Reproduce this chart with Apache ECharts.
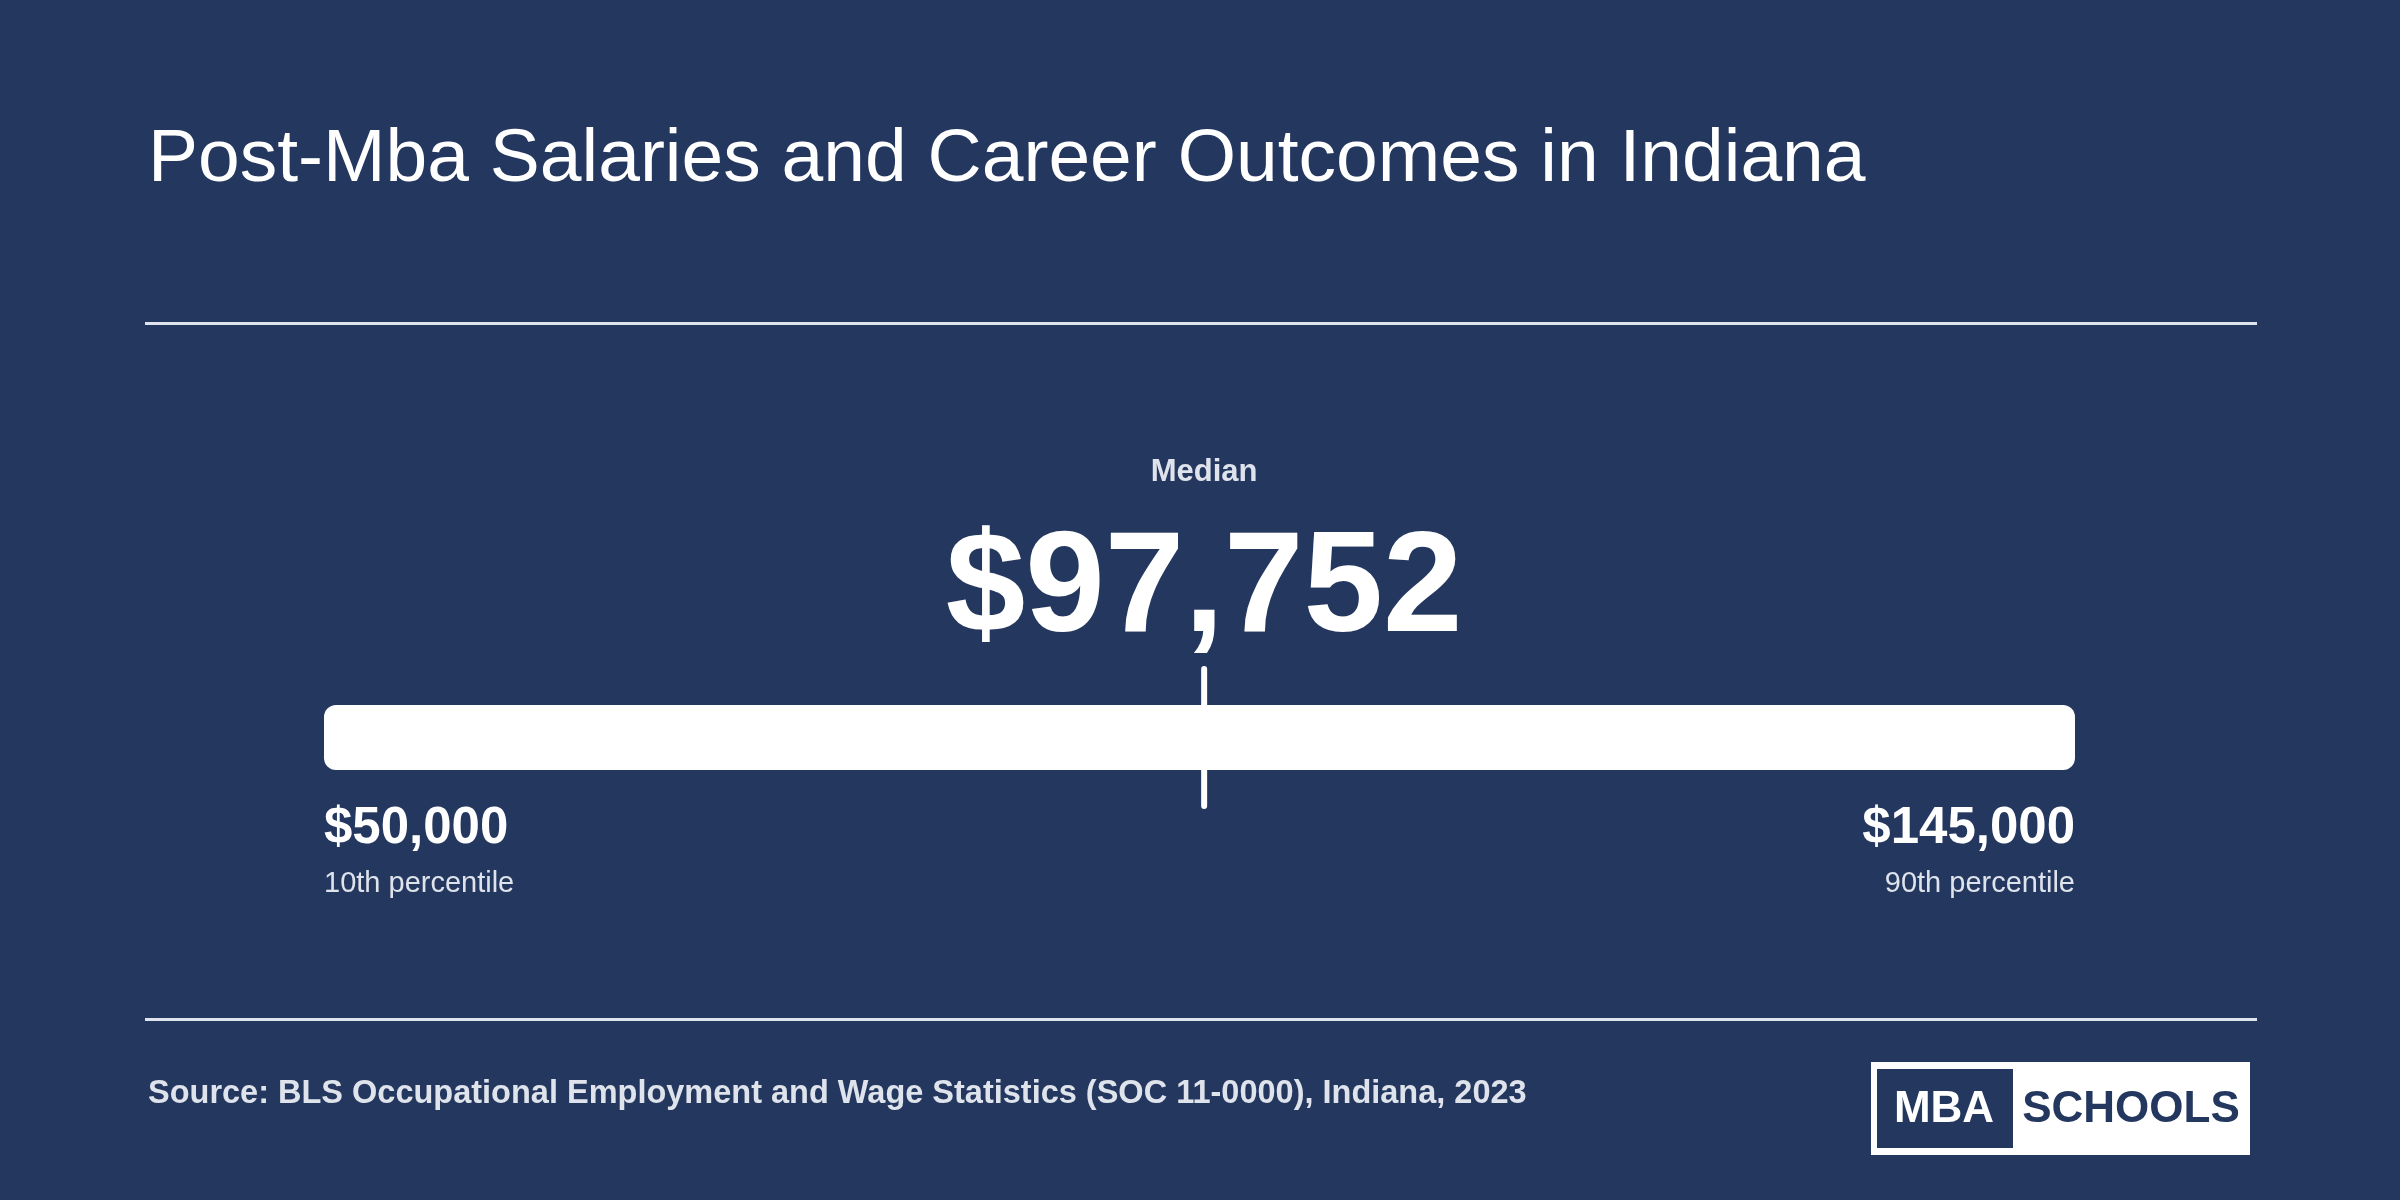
<!DOCTYPE html>
<html><head><meta charset="utf-8">
<script src="https://cdn.jsdelivr.net/npm/echarts@6/dist/echarts.min.js"></script>
<style>html,body{margin:0;padding:0;background:#24375f}#c{width:2400px;height:1200px}</style>
</head><body><div id="c"></div>
<script>
const titleText = "Post-Mba Salaries and Career Outcomes in Indiana";
const sourceText = "Source: BLS Occupational Employment and Wage Statistics (SOC 11-0000), Indiana, 2023";
const categories = ["Indiana"];
const p10 = [50000];
const median = [97752];
const p90 = [145000];
const lowLabel = "10th percentile";
const highLabel = "90th percentile";
const medianLabel = "Median";

const fmt = v => "$" + v.toLocaleString("en-US");
const chart = echarts.init(document.getElementById('c'));
const F = "Liberation Sans, Arial, sans-serif";
chart.setOption({
  backgroundColor: "#24375f",
  animation: false,
  title: [
    {text: titleText, left: 143, top: 118, textStyle: {color: "#fff", fontSize: 75, fontWeight: "normal", fontFamily: F}},
    {text: sourceText, left: 143, top: 1073, textStyle: {color: "#dfe3ec", fontSize: 32.5, fontWeight: "bold", fontFamily: F}}
  ],
  grid: {left: 324, width: 1751, top: 705, height: 65},
  xAxis: {type: "value", min: p10[0], max: p90[0], show: false},
  yAxis: {type: "category", data: categories, show: false},
  graphic: [
    {type: "rect", shape: {x: 145, y: 322, width: 2112, height: 3}, style: {fill: "#dfe3ec"}},
    {type: "rect", shape: {x: 145, y: 1018, width: 2112, height: 3}, style: {fill: "#dfe3ec"}},
    {type: "group", left: 1871, top: 1062, children: [
      {type: "rect", shape: {x: 0, y: 0, width: 379, height: 93}, style: {fill: "#fff"}},
      {type: "rect", shape: {x: 6, y: 7, width: 136, height: 79}, style: {fill: "#24375f"}},
      {type: "text", style: {x: 73, y: 48, text: "MBA", fill: "#fff", font: "bold 44px " + F, align: "center", verticalAlign: "middle"}},
      {type: "text", style: {x: 260, y: 48, text: "SCHOOLS", fill: "#24375f", font: "bold 44px " + F, align: "center", verticalAlign: "middle"}}
    ]}
  ],
  series: [{
    type: "custom",
    data: categories.map((c, i) => [p10[i], median[i], p90[i], i]),
    renderItem: function (params, api) {
      const lo = api.coord([api.value(0), api.value(3)]);
      const md = api.coord([api.value(1), api.value(3)]);
      const hi = api.coord([api.value(2), api.value(3)]);
      const h = api.size([0, 1])[1];
      const y0 = lo[1] - h / 2;
      return {type: "group", children: [
        {type: "rect", shape: {x: lo[0], y: y0, width: hi[0] - lo[0], height: h, r: 12}, style: {fill: "#fff"}},
        {type: "rect", shape: {x: md[0] - 3, y: y0 - 39, width: 6, height: h + 78, r: 3}, style: {fill: "#fff"}},
        {type: "text", style: {x: md[0], y: 472, text: medianLabel, fill: "#dfe3ec", font: "bold 31px " + F, align: "center", verticalAlign: "middle"}},
        {type: "text", style: {x: md[0], y: 592, text: fmt(api.value(1)), fill: "#fff", font: "bold 143px " + F, align: "center", verticalAlign: "middle"}},
        {type: "text", style: {x: lo[0], y: 829, text: fmt(api.value(0)), fill: "#fff", font: "bold 51px " + F, align: "left", verticalAlign: "middle"}},
        {type: "text", style: {x: lo[0], y: 884, text: lowLabel, fill: "#dfe3ec", font: "29px " + F, align: "left", verticalAlign: "middle"}},
        {type: "text", style: {x: hi[0], y: 829, text: fmt(api.value(2)), fill: "#fff", font: "bold 51px " + F, align: "right", verticalAlign: "middle"}},
        {type: "text", style: {x: hi[0], y: 884, text: highLabel, fill: "#dfe3ec", font: "29px " + F, align: "right", verticalAlign: "middle"}}
      ]};
    }
  }]
});
</script></body></html>
